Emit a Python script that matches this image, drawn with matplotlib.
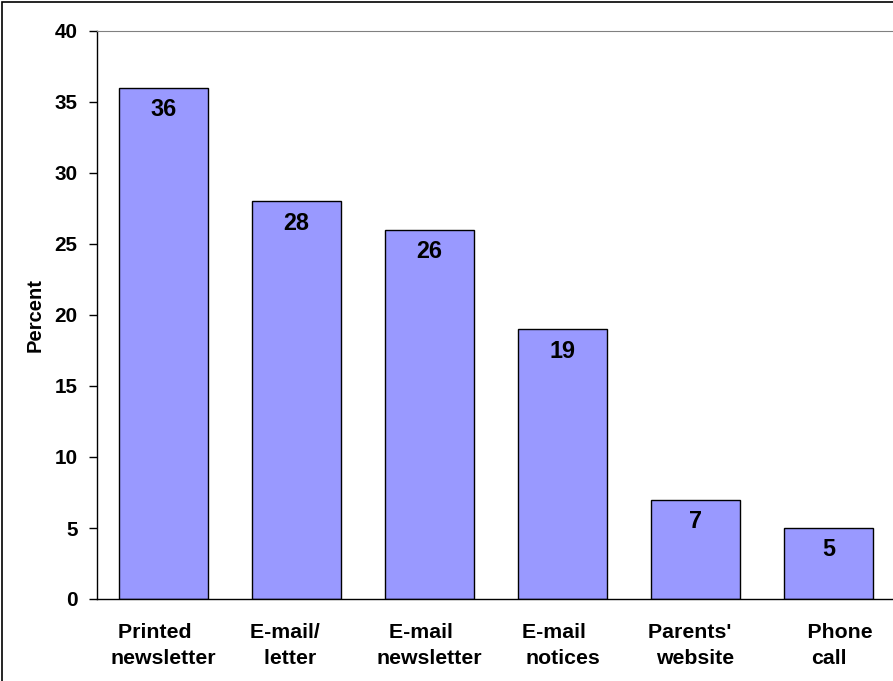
import matplotlib.pyplot as plt
from matplotlib.patches import Rectangle

# Datos del grafico (los espacios imitan el ajuste de linea de Excel)
NB = "\u00a0"
categorias = ["Printed" + NB * 3 + "\nnewsletter", "E-mail/" + NB * 4 + "\nletter" + NB * 2,
              "E-mail" + NB * 3 + "\nnewsletter", "E-mail" + NB * 3 + "\nnotices",
              "Parents'" + NB * 2 + "\nwebsite", NB * 4 + "Phone\ncall"]
valores = [36, 28, 26, 19, 7, 5]
yticks = [0, 5, 10, 15, 20, 25, 30, 35, 40]

plt.rcParams['font.family'] = ['Liberation Sans', 'DejaVu Sans']

fig = plt.figure(figsize=(8.93, 6.81), dpi=100)
ax = fig.add_axes([97 / 893, 1 - 599 / 681, 798 / 893, 568 / 681])

x = range(len(categorias))
ax.bar(x, valores, width=0.67, color='#9999FF', edgecolor='black', linewidth=1)

# Etiquetas dentro de las barras
for i, v in zip(x, valores):
    ax.annotate(str(v), (i, v), xytext=(0, -22), textcoords='offset pixels',
                ha='center', va='center', fontsize=16.8, fontweight='bold')

ax.set_xlim(-0.5, len(categorias) - 0.5)
ax.set_ylim(0, 40)
ax.set_yticks(yticks)
ax.set_yticklabels([str(t) for t in yticks], fontsize=14.9, fontweight='bold')
ax.set_xticks(list(x))
ax.set_xticklabels(categorias, fontsize=15.3, fontweight='bold', linespacing=1.5)
ax.tick_params(axis='x', length=0, pad=17)
ax.tick_params(axis='y', length=6, width=1, direction='out', pad=8)
ax.set_ylabel("Percent", fontsize=14.5, fontweight='bold', va='center')
ax.yaxis.set_label_coords((35 - 97) / 798, 0.5)

ax.spines['top'].set_color('#808080')
ax.spines['top'].set_linewidth(0.8)
ax.spines['right'].set_visible(False)
ax.spines['left'].set_linewidth(1)
ax.spines['bottom'].set_linewidth(1)

# Marco exterior
fig.patches.append(Rectangle((2 / 893, -0.01), 1.0, 1 - 2 / 681 + 0.01,
                             transform=fig.transFigure, fill=False,
                             edgecolor='black', linewidth=1.2))

fig.savefig("out.png", dpi=100)
